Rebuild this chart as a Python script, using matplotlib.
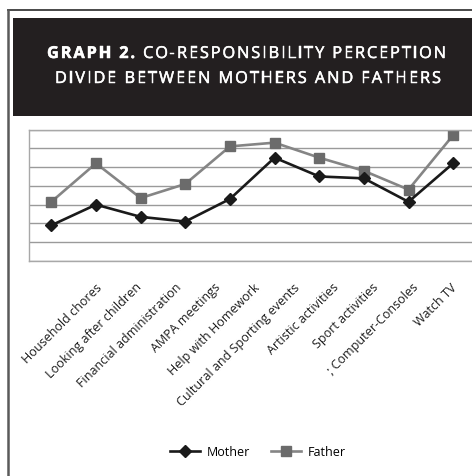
import matplotlib.pyplot as plt
import matplotlib.patheffects as pe
from matplotlib.lines import Line2D
from matplotlib.patches import Rectangle
from matplotlib.font_manager import FontProperties, findfont, get_font
import matplotlib.transforms as mtransforms

# data (grid units, no axis labels shown)
categories = ["Household chores", "Looking after children", "Financial administration",
              "AMPA meetings", "Help with Homework", "Cultural and Sporting events",
              "Artistic activities", "Sport activities", "; Computer-Consoles", "Watch TV"]
mother = [1.9, 3.0, 2.35, 2.1, 3.3, 5.5, 4.5, 4.4, 3.15, 5.2]
father = [3.15, 5.2, 3.35, 4.1, 6.1, 6.3, 5.5, 4.8, 3.8, 6.7]

plt.rcParams['font.family'] = ['Open Sans', 'DejaVu Sans']

W, H = 472, 477
fig = plt.figure(figsize=(W / 100, H / 100), dpi=100)

def fx(px):
    return px / W

def fy(py):
    return 1 - py / H

def advances(s, fp):
    # glyph advances in pixels at 100 dpi
    font = get_font(findfont(fp))
    font.set_size(fp.get_size_in_points(), 100)
    return [font.load_char(ord(c)).linearHoriAdvance / 65536 for c in s]

def tracked_line(parts, left, right, y, size):
    # letter-spaced title line made of (text, weight) parts, stretched between left and right
    chars = []
    for txt, weight in parts:
        fp = FontProperties(family='Open Sans', weight=weight, size=size)
        chars += list(zip(txt, advances(txt, fp), [weight] * len(txt)))
    total = sum(a for _, a, _ in chars)
    track = (right - left - total) / (len(chars) - 1)
    thick = [pe.withStroke(linewidth=0.35, foreground='white')]
    xpos = left
    for ch, adv, weight in chars:
        if ch != ' ':
            fig.text(fx(xpos), fy(y), ch, family='Open Sans', fontweight=weight,
                     fontsize=size, color='white', ha='left', va='center',
                     path_effects=thick)
        xpos += adv + track

# outer frame (top and left edges only, rest cropped)
fig.add_artist(Line2D([fx(7.5), 1], [fy(10.5), fy(10.5)], color='#3a3a3a', lw=1.3))
fig.add_artist(Line2D([fx(7.5), fx(7.5)], [fy(10.5), 0], color='#5a5a5a', lw=1.8))

# title box
fig.add_artist(Rectangle((fx(13), fy(117)), 1 - fx(13), fy(19) - fy(117),
                         facecolor='#231f20', edgecolor='none'))
tracked_line([("GRAPH 2. ", 'bold'), ("CO-RESPONSIBILITY PERCEPTION", 'normal')],
             47, 446, 55, 11.8)
tracked_line([("DIVIDE BETWEEN MOTHERS AND FATHERS", 'normal')], 55, 441, 80, 11.8)

# plot area
ax = fig.add_axes([fx(29), fy(262), fx(475.5) - fx(29), fy(130.5) - fy(262)])
x = list(range(len(categories)))
ax.plot(x, mother, color='#1a1a1a', lw=1.9, marker='D', markersize=6,
        markerfacecolor='#1a1a1a', markeredgecolor='#1a1a1a', label='Mother', zorder=3)
ax.plot(x, father, color='#858585', lw=1.9, marker='s', markersize=6.5,
        markerfacecolor='#6b6b6b', markeredgecolor='#6b6b6b', label='Father', zorder=2)

ax.set_xlim(-0.5, len(categories) - 0.5)
ax.set_ylim(0, 7)
ax.set_yticks(range(8))
ax.set_yticklabels([])
ax.grid(axis='y', color='#9a9a9a', lw=1.0)
ax.set_axisbelow(True)
ax.tick_params(length=0)
for s in ax.spines.values():
    s.set_color('#a8a8a8')
    s.set_linewidth(1.0)

# rotated category labels, packed a little tighter than the ticks (as in the source)
ax.set_xticks(x)
ax.set_xticklabels(categories, rotation=45, fontsize=9, color='#1e1e1e')
ax.tick_params(axis='x', pad=17)
for i, lab in enumerate(ax.get_xticklabels()):
    lab.set_ha('right')
    lab.set_va('center')
    lab.set_rotation_mode('anchor')
    dx = (49 - 5.2 * i) / 100
    lab.set_transform(lab.get_transform() +
                      mtransforms.ScaledTranslation(dx, 0, fig.dpi_scale_trans))

fig.legend(loc='center', bbox_to_anchor=(fx(258), fy(453)), ncol=2, frameon=False,
           fontsize=9, handlelength=2.4, columnspacing=1.6, handletextpad=0.6)

fig.savefig('out.png', dpi=100)
